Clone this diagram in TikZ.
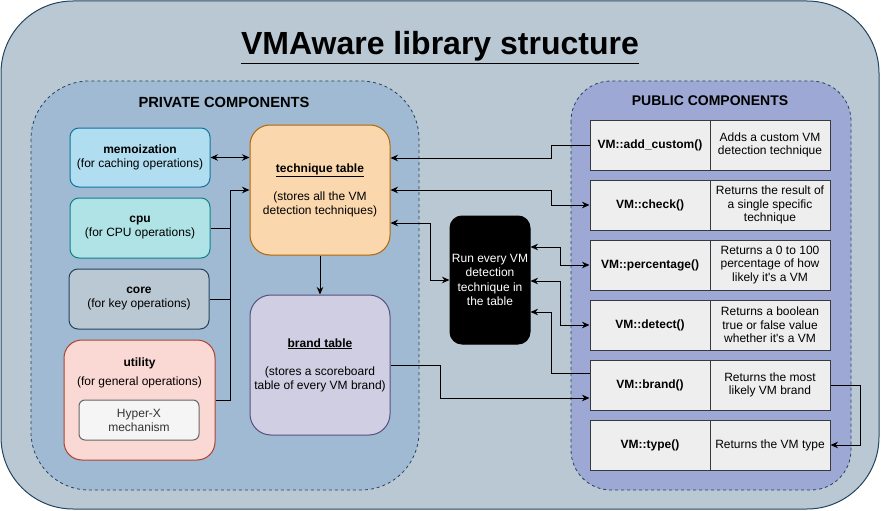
\documentclass[tikz,border=0pt]{standalone}
\usepackage{fontspec}
\setmainfont{Liberation Sans}
\usetikzlibrary{arrows.meta}

\definecolor{outerfill}{HTML}{BAC8D3}
\definecolor{outerline}{HTML}{23445D}
\definecolor{privfill}{RGB}{159,186,210}
\definecolor{pubfill}{RGB}{157,168,212}
\definecolor{memofill}{HTML}{B1DDF0}
\definecolor{memoline}{HTML}{10739E}
\definecolor{cpufill}{HTML}{B0E3E6}
\definecolor{cpuline}{HTML}{0E8088}
\definecolor{utilfill}{HTML}{FAD9D5}
\definecolor{utilline}{HTML}{AE4132}
\definecolor{hyperfill}{HTML}{F5F5F5}
\definecolor{hyperline}{HTML}{666666}
\definecolor{techfill}{HTML}{FAD7AC}
\definecolor{techline}{HTML}{B46504}
\definecolor{brandfill}{HTML}{D0CEE2}
\definecolor{brandline}{HTML}{56517E}
\definecolor{cellfill}{HTML}{EEEEEE}
\definecolor{cellline}{HTML}{36393D}

\tikzset{
  body/.style={font=\fontsize{12}{14}\selectfont},
  comp/.style={draw, line width=1pt, align=center, inner sep=0pt, body},
  group/.style={draw=outerline, dashed, dash pattern=on 3pt off 3pt, line width=0.8pt},
  cell/.style={comp, fill=cellfill, draw=cellline, minimum width=120pt,
    minimum height=50pt, font=\fontsize{12}{13.5}\selectfont},
  fname/.style={cell, font=\fontsize{12}{13.5}\selectfont\bfseries},
  arr/.style={line width=1pt, -{Stealth[length=7.5pt,width=6.5pt]}},
  biarr/.style={line width=1pt, {Stealth[length=7.5pt,width=6.5pt]}-{Stealth[length=7.5pt,width=6.5pt]}},
  link/.style={line width=1pt}
}

\begin{document}
\begin{tikzpicture}[x=1pt,y=-1pt]
\useasboundingbox (0,0) rectangle (881,511);

% frames
\draw[fill=outerfill, draw=outerline, line width=1pt, rounded corners=72pt]
  (1,1) rectangle (879,509);
\draw[group, fill=privfill, rounded corners=58pt] (31,81) rectangle (419,490);
\draw[group, fill=pubfill, rounded corners=40pt] (571,81) rectangle (851,490);

\node[anchor=base, font=\fontsize{32}{36}\selectfont\bfseries] (title) at (440,55)
  {\underline{VMAware library structure}};
\node[font=\fontsize{14.7}{16}\selectfont\bfseries] (privtitle) at (224,102) {PRIVATE COMPONENTS};
\node[font=\fontsize{14}{16}\selectfont\bfseries] (pubtitle) at (710,101) {PUBLIC COMPONENTS};

% private components
\node[comp, fill=memofill, draw=memoline, rounded corners=9pt,
  minimum width=140pt, minimum height=59pt] (memo) at (140,157.5)
  {\textbf{memoization}\\(for caching operations)};
\node[comp, fill=cpufill, draw=cpuline, rounded corners=9pt,
  minimum width=140pt, minimum height=60pt] (cpu) at (140,228)
  {\textbf{cpu}\\(for CPU operations)};
\node[comp, fill=outerfill, draw=outerline, rounded corners=9pt,
  minimum width=140pt, minimum height=60pt] (core) at (139,299)
  {\textbf{core}\\(for key operations)};
\node[comp, fill=utilfill, draw=utilline, rounded corners=18pt,
  minimum width=151pt, minimum height=120pt] (util) at (139.5,400) {};
\node[body, align=center, inner sep=0pt] (utiltxt) at (139.5,373)
  {\textbf{utility}\\[5pt](for general operations)};
\node[comp, fill=hyperfill, draw=hyperline, text=black!80, rounded corners=6pt,
  minimum width=120pt, minimum height=40pt] (hyper) at (139,420)
  {Hyper-X\\mechanism};

\node[comp, fill=techfill, draw=techline, rounded corners=20pt,
  minimum width=140pt, minimum height=130pt] (tech) at (320,190)
  {\textbf{\underline{technique table}}\\[14pt](stores all the VM\\detection techniques)};
\node[comp, fill=brandfill, draw=brandline, rounded corners=21pt,
  minimum width=140pt, minimum height=140pt] (brandt) at (320,365)
  {\textbf{\underline{brand table}}\\[14pt](stores a scoreboard\\table of every VM brand)};

\node[comp, fill=black, draw=black, text=white, rounded corners=12pt,
  minimum width=80pt, minimum height=128pt, font=\fontsize{12}{14.5}\selectfont] (run) at (490,280)
  {Run every VM\\detection\\technique in\\the table};

% public components
\node[fname] (addcustom) at (650,145) {VM::add\_custom()};
\node[cell] (addcustomtxt) at (770,145) {Adds a custom VM\\detection technique};
\node[fname] (check) at (650,205) {VM::check()};
\node[cell] (checktxt) at (770,205) {Returns the result of\\a single specific\\technique};
\node[fname] (percent) at (650,265) {VM::percentage()};
\node[cell] (percenttxt) at (770,265) {Returns a 0 to 100\\percentage of how\\likely it\textquotesingle s a VM};
\node[fname] (detect) at (650,325) {VM::detect()};
\node[cell] (detecttxt) at (770,325) {Returns a boolean\\true or false value\\whether it\textquotesingle s a VM};
\node[fname] (brand) at (650,385) {VM::brand()};
\node[cell] (brandtxt) at (770,385) {Returns the most\\likely VM brand};
\node[fname] (vmtype) at (650,445) {VM::type()};
\node[cell] (vmtypetxt) at (770,445) {Returns the VM type};

% connectors
\coordinate (join) at (230,190);
\draw[biarr] (memo.east) -- (memo.east -| tech.west);
\draw[link] (cpu.east) -| (join);
\draw[link] (core.east) -| (join);
\draw[link] (util.east) -| (join);
\draw[arr] (join) -- (join -| tech.west);
\draw[arr] (tech.south) -- (brandt.north);

\draw[arr] (addcustom.west) -- (551,145) |- (tech.east |- 0,158);
\draw[biarr] (tech.east) -- (551,190) |- (check.west);
\draw[biarr] (tech.east |- 0,223) -- (430,223) |- (run.west);
\draw[biarr] (run.east |- 0,247) -- (560,247) |- (percent.west);
\draw[biarr] (run.east |- 0,281) -- (560,281) |- (detect.west);
\draw[arr] (brand.west |- 0,373) -- (551,373) |- (run.east |- 0,312);
\draw[arr] (brandt.east) -- (440,365) |- (brand.west |- 0,398);
\draw[arr] (brandtxt.east) -- (860,385) |- (vmtypetxt.east);
\end{tikzpicture}
\end{document}
